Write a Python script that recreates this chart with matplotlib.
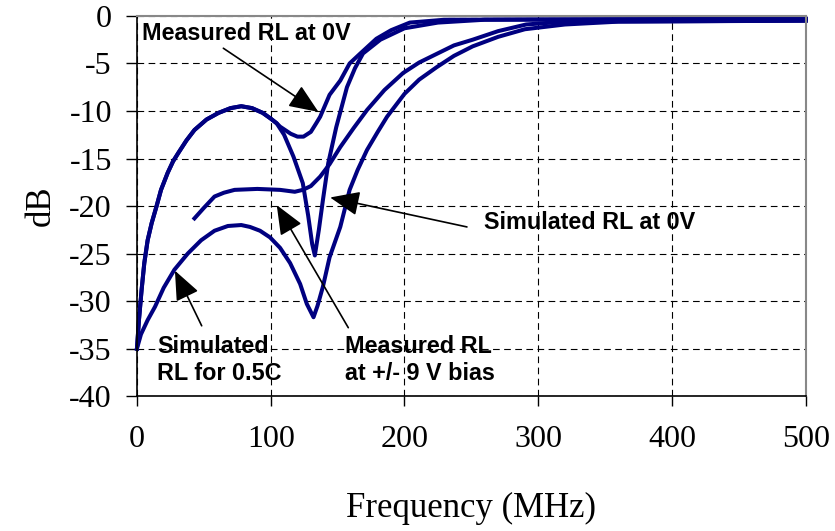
import matplotlib.pyplot as plt
import numpy as np

# Simulated RL at 0V (hump shared with measured, then deep dip)
sim0_f = [0, 1.5, 3.5, 5.5, 8, 11, 14.7, 18, 23, 27, 31, 37, 43, 52, 61, 70, 78, 86, 94, 100, 104.5,
          110, 117, 124, 128, 131, 133, 136, 139, 143, 149, 157, 163, 169, 182, 200, 225, 260, 500]
sim0_db = [-35, -32, -28.8, -26, -23.6, -21.8, -20, -18.3, -16.5, -15.3, -14.4, -13.1, -12, -10.9, -10.2, -9.7, -9.5, -9.7, -10.2, -10.8, -11.3,
           -12.5, -14.8, -17.6, -21, -24, -25.2, -22.5, -19.4, -15.5, -11.7, -7.5, -5.5, -3.95, -2.5, -1.3, -0.7, -0.4, -0.3]

# Measured RL at 0V
meas0_f = [0, 1.5, 3.5, 5.5, 8, 11, 14.7, 18, 23, 27, 31, 37, 43, 52, 61, 70, 78, 86, 94, 100, 104.5,
           107, 115, 120, 124.5, 130, 134, 137, 144, 152, 159, 167, 179, 190, 204, 230, 500]
meas0_db = [-35, -32, -28.8, -26, -23.6, -21.8, -20, -18.3, -16.5, -15.3, -14.4, -13.1, -12, -10.9, -10.2, -9.7, -9.5, -9.7, -10.2, -10.8, -11.3,
            -11.65, -12.4, -12.7, -12.7, -12.2, -11.3, -10.6, -8.3, -6.8, -5, -3.95, -2.4, -1.5, -0.7, -0.4, -0.3]

# Measured RL at +/- 9 V bias
meas9_f = [43, 50, 58, 65, 73, 90, 107, 118, 124, 130, 137, 144, 152, 162, 172, 185, 199, 211, 224, 237, 251, 270, 291, 320, 500]
meas9_db = [-21.3, -20.2, -19, -18.6, -18.3, -18.2, -18.3, -18.5, -18.3, -17.9, -16.9, -15.6, -13.8, -11.8, -9.9, -7.8, -6, -4.9, -4, -3.1, -2.5, -1.6, -0.9, -0.6, -0.5]

# Simulated RL for 0.5C
sim05_f = [0, 3, 8, 13.5, 20, 28, 38, 48, 58, 68, 78, 84.5, 92, 99.5, 107, 114.5, 122, 127, 132, 135, 139, 144, 152,
           159, 165, 172, 180, 187, 200, 211, 224, 237, 251, 270, 290, 320, 360, 500]
sim05_db = [-35, -33.5, -32, -30.6, -28.6, -26.7, -25, -23.6, -22.6, -22.1, -22, -22.2, -22.6, -23.3, -24.4, -26, -28.2, -30.3, -31.7, -30.5, -28.5, -25.4, -22.2,
            -18.3, -16.2, -14.1, -12.2, -10.6, -8.2, -6.7, -5.4, -4.2, -3.2, -2.2, -1.4, -0.9, -0.6, -0.5]

xticks = [0, 100, 200, 300, 400, 500]
yticks = [0, -5, -10, -15, -20, -25, -30, -35, -40]

fig = plt.figure(figsize=(8.35, 5.31), dpi=100)
ax = fig.add_axes([0.164, 0.254, 0.801, 0.716])

line_color = '#000080'
for f, db in [(sim0_f, sim0_db), (meas0_f, meas0_db), (meas9_f, meas9_db), (sim05_f, sim05_db)]:
    ax.plot(f, db, color=line_color, lw=2.9, solid_joinstyle='round', clip_on=False)

ax.set_xlim(0, 500)
ax.set_ylim(-40, 0)
ax.set_xticks(xticks)
ax.set_yticks(yticks)
ax.set_xticklabels([str(t) for t in xticks], family='Liberation Serif', fontsize=23)
ax.set_yticklabels([str(t) for t in yticks], family='Liberation Serif', fontsize=23)
ax.tick_params(axis='y', direction='out', length=8, width=1, pad=10)
ax.tick_params(axis='x', direction='out', length=7, width=1, pad=14)
ax.grid(True, color='black', linestyle=(0, (6, 4)), lw=0.8)
ax.set_axisbelow(True)

for s in ['top', 'right']:
    ax.spines[s].set_color('#888888')
    ax.spines[s].set_linewidth(1.5)
for s in ['left', 'bottom']:
    ax.spines[s].set_color('black')
    ax.spines[s].set_linewidth(1.2)

ax.set_xlabel('Frequency (MHz)', family='Liberation Serif', fontsize=25, labelpad=27)
ax.set_ylabel('dB', family='Liberation Serif', fontsize=25, labelpad=8)

# annotations
arrow = dict(arrowstyle='-|>,head_length=0.65,head_width=0.27', color='black', lw=1.2,
             mutation_scale=28, shrinkA=0, shrinkB=0)
font = dict(family='Liberation Sans', fontweight='bold', fontsize=16.8)

ax.text(3.7, -1.9, 'Measured RL at 0V', ha='left', va='center', **font)
ax.annotate('', xy=(135.7, -10.1), xytext=(64.6, -3.4), arrowprops=arrow)

ax.text(259.6, -21.7, 'Simulated RL at 0V', ha='left', va='center', **font)
ax.annotate('', xy=(144.4, -19.1), xytext=(246.7, -22.2), arrowprops=arrow)

ax.text(15, -36.2, 'Simulated\nRL for 0.5C', ha='left', va='center', linespacing=1.2, **font)
ax.annotate('', xy=(28.4, -26.8), xytext=(48.4, -32.6), arrowprops=arrow)

ax.text(155.6, -36.2, 'Measured RL\nat +/- 9 V bias', ha='left', va='center', linespacing=1.2, **font)
ax.annotate('', xy=(104.5, -19.9), xytext=(158, -32.8), arrowprops=arrow)

fig.savefig('out.png', dpi=100)
